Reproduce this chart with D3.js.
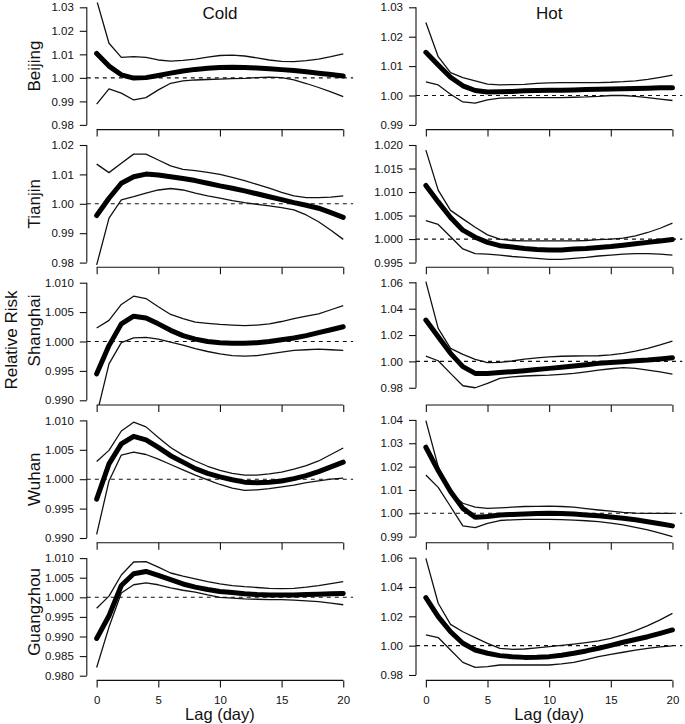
<!DOCTYPE html>
<html><head><meta charset="utf-8">
<script src="https://cdn.jsdelivr.net/npm/d3@7"></script>
<style>
body{margin:0;background:#fff}
svg{display:block}
text{font-family:"Liberation Sans", Arial, Helvetica, sans-serif; fill:#111}
</style>
</head><body>
<svg id="chart" width="685" height="724"></svg>
<script>
// ---------- DATA ----------
const lags = [0,1,2,3,4,5,6,7,8,9,10,11,12,13,14,15,16,17,18,19,20];
const cities = ["Beijing","Tianjin","Shanghai","Wuhan","Guangzhou"];
const seasons = ["Cold","Hot"];
const xTicks = [0,5,10,15,20];
const yLabel = "Relative Risk";
const xLabel = "Lag (day)";

// Beijing
const beijingColdFit  = [1.0104,1.0050,1.0013,0.9999,1.0001,1.0010,1.0020,1.0029,1.0036,1.0041,1.0044,1.0045,1.0044,1.0042,1.0039,1.0035,1.0031,1.0026,1.0020,1.0014,1.0008];
const beijingColdHigh = [1.0330,1.0147,1.0087,1.0090,1.0087,1.0076,1.0071,1.0074,1.0080,1.0088,1.0095,1.0097,1.0093,1.0085,1.0076,1.0070,1.0069,1.0073,1.0080,1.0090,1.0102];
const beijingColdLow  = [0.9888,0.9953,0.9935,0.9906,0.9916,0.9949,0.9977,0.9987,0.9991,0.9993,0.9995,0.9997,0.9998,1.0001,1.0003,1.0001,0.9991,0.9976,0.9959,0.9940,0.9920];
const beijingHotFit   = [1.0147,1.0104,1.0062,1.0033,1.0017,1.0012,1.0013,1.0014,1.0016,1.0017,1.0018,1.0018,1.0019,1.0020,1.0021,1.0022,1.0023,1.0024,1.0025,1.0026,1.0026];
const beijingHotHigh  = [1.0248,1.0132,1.0078,1.0061,1.0050,1.0039,1.0036,1.0037,1.0038,1.0041,1.0043,1.0044,1.0044,1.0044,1.0044,1.0045,1.0047,1.0050,1.0055,1.0062,1.0069];
const beijingHotLow   = [1.0046,1.0036,1.0004,0.9978,0.9974,0.9985,0.9991,0.9992,0.9993,0.9993,0.9993,0.9993,0.9994,0.9995,0.9997,1.0000,1.0000,0.9997,0.9993,0.9988,0.9983];
// Tianjin
const tianjinColdFit  = [0.9960,1.0019,1.0070,1.0092,1.0101,1.0098,1.0092,1.0086,1.0079,1.0070,1.0061,1.0053,1.0044,1.0034,1.0024,1.0014,1.0004,0.9995,0.9985,0.9970,0.9954];
const tianjinColdHigh = [1.0135,1.0106,1.0138,1.0169,1.0169,1.0149,1.0129,1.0117,1.0113,1.0107,1.0100,1.0090,1.0079,1.0066,1.0053,1.0039,1.0027,1.0021,1.0021,1.0023,1.0027];
const tianjinColdLow  = [0.9792,0.9951,1.0013,1.0024,1.0036,1.0047,1.0052,1.0047,1.0036,1.0027,1.0019,1.0011,1.0004,0.9998,0.9993,0.9987,0.9979,0.9962,0.9939,0.9910,0.9879];
const tianjinHotFit   = [1.0114,1.0079,1.0046,1.0019,1.0004,0.9993,0.9986,0.9983,0.9980,0.9978,0.9977,0.9977,0.9979,0.9980,0.9982,0.9984,0.9987,0.9990,0.9993,0.9996,0.9999];
const tianjinHotHigh  = [1.0189,1.0104,1.0061,1.0043,1.0025,1.0009,1.0000,0.9997,0.9996,0.9996,0.9996,0.9996,0.9996,0.9997,0.9999,1.0000,1.0002,1.0007,1.0014,1.0023,1.0034];
const tianjinHotLow   = [1.0039,1.0031,1.0005,0.9979,0.9969,0.9968,0.9966,0.9963,0.9961,0.9959,0.9957,0.9957,0.9959,0.9961,0.9964,0.9966,0.9968,0.9969,0.9969,0.9968,0.9966];
// Shanghai
const shanghaiColdFit  = [0.9945,0.9993,1.0030,1.0043,1.0040,1.0030,1.0019,1.0010,1.0004,1.0000,0.9998,0.9997,0.9997,0.9998,1.0000,1.0003,1.0006,1.0010,1.0015,1.0020,1.0025];
const shanghaiColdHigh = [1.0023,1.0036,1.0063,1.0077,1.0073,1.0059,1.0046,1.0039,1.0033,1.0031,1.0029,1.0028,1.0027,1.0028,1.0030,1.0034,1.0039,1.0043,1.0047,1.0054,1.0061];
const shanghaiColdLow  = [0.9875,0.9962,0.9998,1.0006,1.0007,1.0004,0.9999,0.9994,0.9988,0.9983,0.9979,0.9976,0.9975,0.9976,0.9979,0.9982,0.9985,0.9986,0.9987,0.9986,0.9985];
const shanghaiHotFit   = [1.0314,1.0187,1.0061,0.9960,0.9909,0.9909,0.9916,0.9922,0.9929,0.9938,0.9947,0.9956,0.9965,0.9975,0.9985,0.9991,0.9997,1.0004,1.0010,1.0019,1.0028];
const shanghaiHotHigh  = [1.0605,1.0251,1.0099,1.0053,1.0015,0.9990,0.9992,1.0003,1.0018,1.0027,1.0035,1.0039,1.0041,1.0042,1.0043,1.0050,1.0061,1.0078,1.0099,1.0125,1.0154];
const shanghaiHotLow   = [1.0040,1.0005,0.9909,0.9815,0.9800,0.9833,0.9871,0.9882,0.9889,0.9893,0.9896,0.9902,0.9909,0.9921,0.9934,0.9944,0.9952,0.9947,0.9934,0.9920,0.9904];
// Wuhan
const wuhanColdFit  = [0.9966,1.0026,1.0060,1.0073,1.0067,1.0054,1.0040,1.0029,1.0018,1.0010,1.0004,0.9999,0.9995,0.9994,0.9995,0.9997,1.0001,1.0006,1.0013,1.0021,1.0029];
const wuhanColdHigh = [1.0030,1.0049,1.0082,1.0097,1.0089,1.0071,1.0054,1.0041,1.0031,1.0022,1.0015,1.0010,1.0007,1.0007,1.0009,1.0012,1.0017,1.0023,1.0031,1.0042,1.0053];
const wuhanColdLow  = [0.9906,0.9997,1.0041,1.0046,1.0042,1.0034,1.0025,1.0016,1.0007,0.9999,0.9991,0.9985,0.9981,0.9982,0.9984,0.9987,0.9990,0.9994,0.9997,1.0000,1.0002];
const wuhanHotFit   = [1.0283,1.0183,1.0093,1.0021,0.9983,0.9986,0.9993,0.9995,0.9997,0.9999,1.0000,0.9999,0.9997,0.9993,0.9989,0.9984,0.9979,0.9972,0.9964,0.9955,0.9946];
const wuhanHotHigh  = [1.0397,1.0200,1.0086,1.0043,1.0026,1.0021,1.0023,1.0026,1.0029,1.0030,1.0031,1.0029,1.0026,1.0020,1.0014,1.0009,1.0004,1.0001,1.0000,1.0000,1.0000];
const wuhanHotLow   = [1.0164,1.0111,1.0029,0.9946,0.9939,0.9957,0.9969,0.9972,0.9974,0.9974,0.9974,0.9973,0.9971,0.9968,0.9964,0.9958,0.9950,0.9940,0.9929,0.9915,0.9900];
// Guangzhou
const guangzhouColdFit  = [0.9895,0.9953,1.0030,1.0060,1.0066,1.0056,1.0045,1.0034,1.0026,1.0020,1.0015,1.0012,1.0009,1.0007,1.0006,1.0006,1.0006,1.0007,1.0008,1.0009,1.0010];
const guangzhouColdHigh = [0.9972,1.0003,1.0057,1.0090,1.0091,1.0077,1.0062,1.0054,1.0047,1.0040,1.0034,1.0030,1.0027,1.0025,1.0023,1.0022,1.0023,1.0026,1.0030,1.0035,1.0040];
const guangzhouColdLow  = [0.9821,0.9924,1.0011,1.0032,1.0037,1.0032,1.0024,1.0018,1.0013,1.0006,1.0000,0.9998,0.9996,0.9995,0.9994,0.9994,0.9993,0.9991,0.9989,0.9985,0.9981];
const guangzhouHotFit   = [1.0327,1.0198,1.0095,1.0016,0.9970,0.9948,0.9932,0.9924,0.9920,0.9921,0.9925,0.9935,0.9948,0.9964,0.9982,1.0002,1.0023,1.0042,1.0061,1.0084,1.0107];
const guangzhouHotHigh  = [1.0595,1.0289,1.0145,1.0095,1.0055,1.0016,0.9982,0.9975,0.9977,0.9985,0.9993,1.0002,1.0011,1.0021,1.0032,1.0050,1.0073,1.0102,1.0136,1.0176,1.0220];
const guangzhouHotLow   = [1.0073,1.0055,0.9970,0.9886,0.9852,0.9857,0.9868,0.9868,0.9868,0.9868,0.9868,0.9876,0.9886,0.9905,0.9925,0.9941,0.9955,0.9970,0.9982,0.9991,0.9998];

// y tick values per panel
const beijingColdTicks   = [0.98,0.99,1.00,1.01,1.02,1.03];
const beijingHotTicks    = [0.99,1.00,1.01,1.02,1.03];
const tianjinColdTicks   = [0.98,0.99,1.00,1.01,1.02];
const tianjinHotTicks    = [0.995,1.000,1.005,1.010,1.015,1.020];
const shanghaiColdTicks  = [0.990,0.995,1.000,1.005,1.010];
const shanghaiHotTicks   = [0.98,1.00,1.02,1.04,1.06];
const wuhanColdTicks     = [0.990,0.995,1.000,1.005,1.010];
const wuhanHotTicks      = [0.99,1.00,1.01,1.02,1.03,1.04];
const guangzhouColdTicks = [0.980,0.985,0.990,0.995,1.000,1.005,1.010];
const guangzhouHotTicks  = [0.98,1.00,1.02,1.04,1.06];
// decimals of tick labels, per panel [cold, hot]
const beijingDecimals   = [2,2];
const tianjinDecimals   = [2,3];
const shanghaiDecimals  = [3,2];
const wuhanDecimals     = [3,2];
const guangzhouDecimals = [3,2];
// y-axis limits per panel [cold, hot]
const beijingLimits   = [[0.978,1.032],[0.9884,1.0316]];
const tianjinLimits   = [[0.9784,1.0216],[0.994,1.021]];
const shanghaiLimits  = [[0.9892,1.0108],[0.9669,1.0633]];
const wuhanLimits     = [[0.9892,1.0108],[0.9874,1.0418]];
const guangzhouLimits = [[0.9788,1.0112],[0.9763,1.0629]];

// ---------- TABLE ----------
const table = [
  {fit:[beijingColdFit,beijingHotFit],high:[beijingColdHigh,beijingHotHigh],low:[beijingColdLow,beijingHotLow],ticks:[beijingColdTicks,beijingHotTicks],dec:beijingDecimals,lim:beijingLimits},
  {fit:[tianjinColdFit,tianjinHotFit],high:[tianjinColdHigh,tianjinHotHigh],low:[tianjinColdLow,tianjinHotLow],ticks:[tianjinColdTicks,tianjinHotTicks],dec:tianjinDecimals,lim:tianjinLimits},
  {fit:[shanghaiColdFit,shanghaiHotFit],high:[shanghaiColdHigh,shanghaiHotHigh],low:[shanghaiColdLow,shanghaiHotLow],ticks:[shanghaiColdTicks,shanghaiHotTicks],dec:shanghaiDecimals,lim:shanghaiLimits},
  {fit:[wuhanColdFit,wuhanHotFit],high:[wuhanColdHigh,wuhanHotHigh],low:[wuhanColdLow,wuhanHotLow],ticks:[wuhanColdTicks,wuhanHotTicks],dec:wuhanDecimals,lim:wuhanLimits},
  {fit:[guangzhouColdFit,guangzhouHotFit],high:[guangzhouColdHigh,guangzhouHotHigh],low:[guangzhouColdLow,guangzhouHotLow],ticks:[guangzhouColdTicks,guangzhouHotTicks],dec:guangzhouDecimals,lim:guangzhouLimits}
];

// ---------- LAYOUT ----------
const svg = d3.select("#chart");
const rowTop0 = 2.6, rowPitch = 137.7, plotH = 127;
const colLeft = [86.8, 416], plotW = 266.3;
const tickLen = 7;
const ink = "#111";
const rowLabelShift = [0, 0, -11, 0, -5];

const defs = svg.append("defs");

cities.forEach((city, r) => {
  const T = rowTop0 + rowPitch * r;
  const B = T + plotH;
  seasons.forEach((season, c) => {
    const L = colLeft[c], R = L + plotW;
    const row = table[r];
    const x = d3.scaleLinear().domain([-0.8, 20.8]).range([L, R]);
    const y = d3.scaleLinear().domain(row.lim[c]).range([B, T]);
    const g = svg.append("g");
    const clipId = `clip-${r}-${c}`;
    defs.append("clipPath").attr("id", clipId)
      .append("rect").attr("x", L).attr("y", T).attr("width", plotW).attr("height", plotH);

    // y axis
    const fmt = d3.format(`.${row.dec[c]}f`);
    const yAxis = d3.axisLeft(y).tickValues(row.ticks[c]).tickFormat(fmt)
      .tickSizeInner(tickLen).tickSizeOuter(0).tickPadding(6);
    const ya = g.append("g").attr("transform", `translate(${L},0)`).call(yAxis);
    ya.select(".domain").remove();
    const tv = row.ticks[c];
    ya.append("line").attr("x1",0).attr("x2",0)
      .attr("y1", y(tv[0])).attr("y2", y(tv[tv.length-1]))
      .attr("stroke", ink).attr("stroke-width", 1.1);
    ya.selectAll(".tick line").attr("stroke", ink).attr("stroke-width", 1.1);
    ya.selectAll(".tick text").attr("font-size", 11.5).attr("fill", "#1a1a1a")
      .style("font-family", '"Liberation Sans", Arial, sans-serif');

    // x axis
    const xAxis = d3.axisBottom(x).tickValues(xTicks).tickSizeInner(tickLen).tickSizeOuter(0).tickPadding(8);
    const xa = g.append("g").attr("transform", `translate(0,${B})`).call(xAxis);
    xa.select(".domain").remove();
    xa.append("line").attr("x1", x(xTicks[0])).attr("x2", x(xTicks[xTicks.length-1]))
      .attr("y1",0).attr("y2",0).attr("stroke", ink).attr("stroke-width", 1.1);
    xa.selectAll(".tick line").attr("stroke", ink).attr("stroke-width", 1.1);
    if (r === cities.length - 1) {
      xa.selectAll(".tick text").attr("font-size", 11.5).attr("fill", "#1a1a1a")
        .style("font-family", '"Liberation Sans", Arial, sans-serif');
    } else {
      xa.selectAll(".tick text").remove();
    }

    // reference line at RR = 1
    g.append("line").attr("x1", L).attr("x2", R).attr("y1", y(1)).attr("y2", y(1))
      .attr("stroke", ink).attr("stroke-width", 1.1).attr("stroke-dasharray", "4,4");

    const plot = g.append("g").attr("clip-path", `url(#${clipId})`);
    const line = vals => d3.line().x((d,i) => x(lags[i])).y(d => y(d))(vals);
    plot.append("path").attr("d", line(row.high[c])).attr("fill","none")
      .attr("stroke", ink).attr("stroke-width", 1.3).attr("stroke-linejoin","round");
    plot.append("path").attr("d", line(row.low[c])).attr("fill","none")
      .attr("stroke", ink).attr("stroke-width", 1.3).attr("stroke-linejoin","round");
    plot.append("path").attr("d", line(row.fit[c])).attr("fill","none")
      .attr("stroke", "#000").attr("stroke-width", 5).attr("stroke-linejoin","round").attr("stroke-linecap","round");

    // column titles
    if (r === 0) {
      svg.append("text").attr("x", (L+R)/2).attr("y", 19.3).attr("text-anchor","middle")
        .attr("font-size", 17).text(season);
    }
    if (r === cities.length - 1) {
      svg.append("text").attr("x", (L+R)/2).attr("y", 720).attr("text-anchor","middle")
        .attr("font-size", 16.5).text(xLabel);
    }
  });
  // row label
  svg.append("text").attr("transform", `translate(40,${T + plotH/2 + rowLabelShift[r]}) rotate(-90)`)
    .attr("text-anchor","middle").attr("font-size", 17).text(city);
});

svg.append("text").attr("transform", `translate(17,340) rotate(-90)`)
  .attr("text-anchor","middle").attr("font-size", 17).text(yLabel);
</script>
</body></html>
